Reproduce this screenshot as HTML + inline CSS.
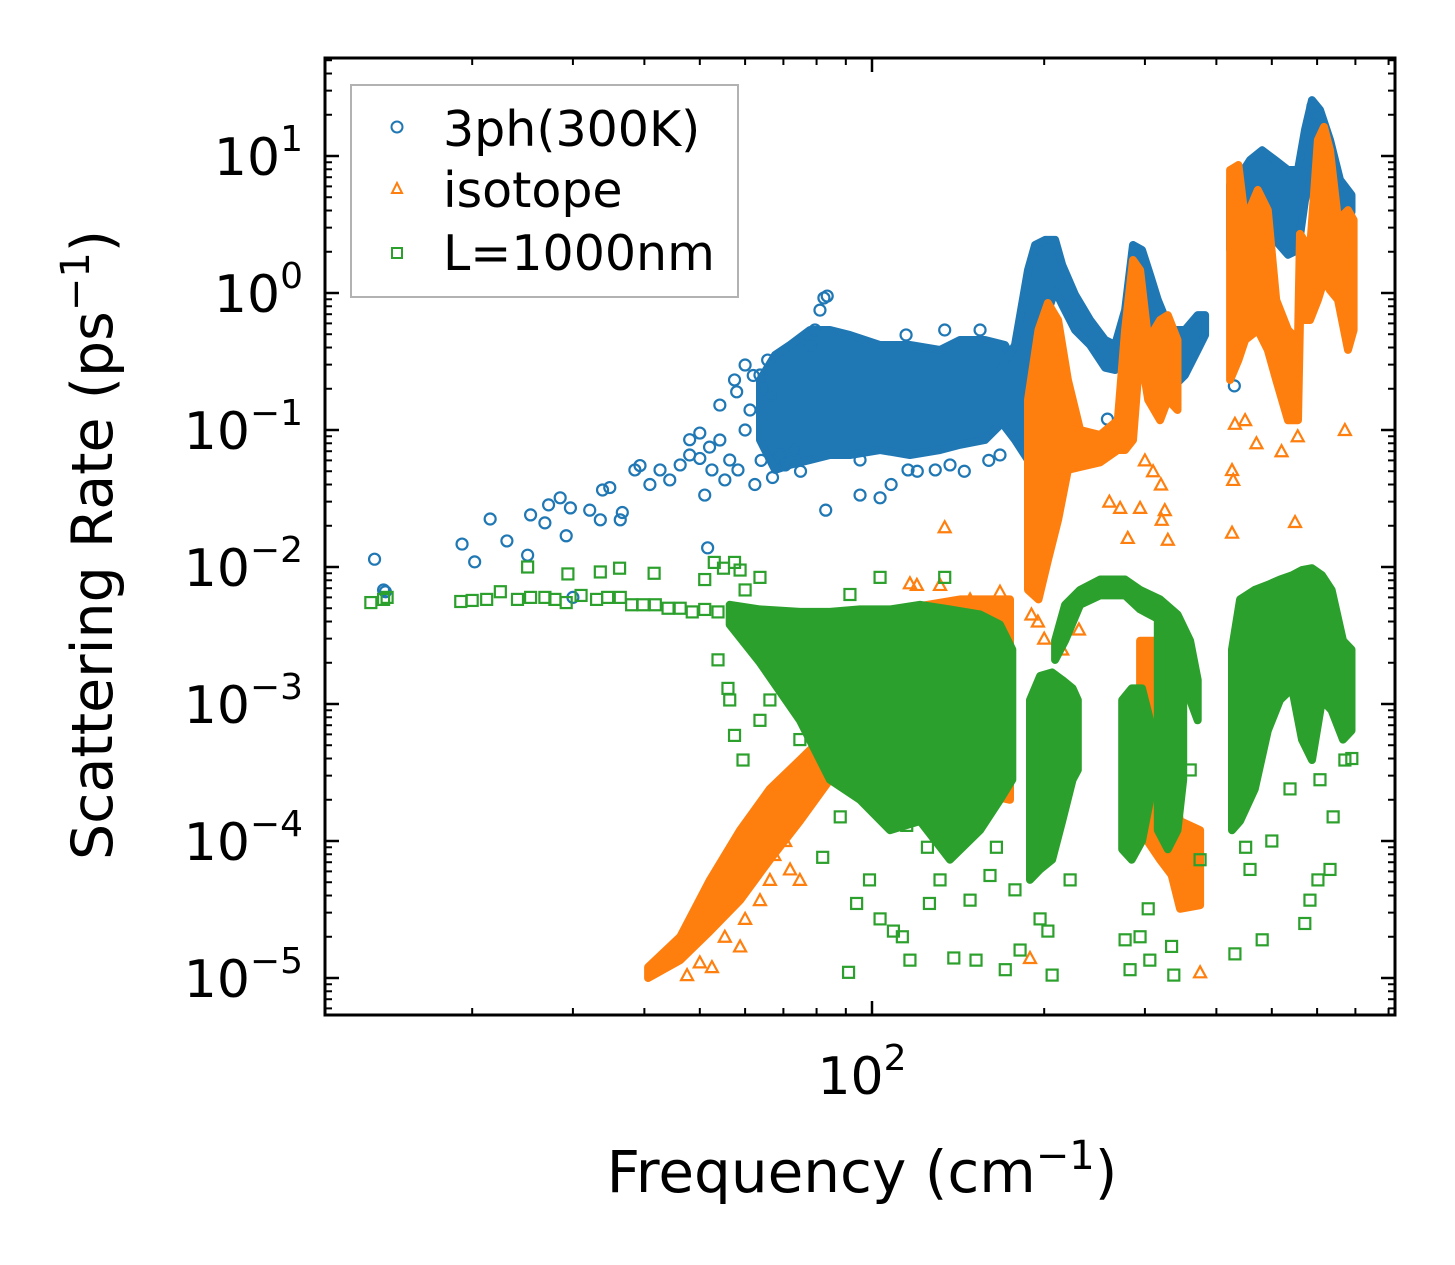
<!DOCTYPE html>
<html><head><meta charset="utf-8"><style>
html,body{margin:0;padding:0;background:#fff;}
svg{display:block;font-family:"DejaVu Sans","Liberation Sans",sans-serif;}
</style></head><body>
<svg id="chart" width="1455" height="1265" viewBox="0 0 1455 1265" xmlns="http://www.w3.org/2000/svg">
<rect x="0" y="0" width="1455" height="1265" fill="#fff"/>
<g id="plot"></g>
<g id="axes"></g>
<text x="862" y="1192" font-size="58" text-anchor="middle">Frequency (cm<tspan dy="-23" font-size="40">−1</tspan><tspan dy="23">)</tspan></text>
<text transform="translate(112,545) rotate(-90)" font-size="57" text-anchor="middle">Scattering Rate (ps<tspan dy="-23" font-size="40">−1</tspan><tspan dy="23">)</tspan></text>
<g id="legend">
<rect x="351" y="85" width="387" height="212" fill="#fff" stroke="#aaa" stroke-width="2" opacity="0.9"/>
<g>
<circle cx="397" cy="127" r="5.5" fill="none" stroke="#1f77b4" stroke-width="2"/>
<text x="443" y="146" font-size="49">3ph(300K)</text></g>
<g>
<polygon points="397,183 402,193 392,193" fill="none" stroke="#ff7f0e" stroke-width="2"/>
<text x="443" y="207" font-size="49">isotope</text></g>
<g>
<rect x="392" y="248" width="10" height="10" fill="none" stroke="#2ca02c" stroke-width="2"/>
<text x="443" y="270" font-size="49">L=1000nm</text></g>
</g>
</svg>
<script>
// ---- data ----
const yTickExps = [1, 0, -1, -2, -3, -4, -5];
const xMajorTicks = [100];
const xMinorTicks = [20,30,40,50,60,70,80,90,200,300,400,500,600,700,800];

// scatter points [freq, rate]
const bluePoints = [[13.5,0.0114],[14.0,0.0068],[14.1,0.0066],[19.2,0.0147],[20.2,0.0109],[21.5,0.0224],[23.0,0.0155],[25.0,0.0122],[25.3,0.024],[26.8,0.021],[27.2,0.0284],[28.5,0.032],[29.2,0.0169],[29.7,0.027],[32.1,0.026],[33.5,0.0221],[33.8,0.0365],[34.8,0.038],[36.3,0.0221],[36.6,0.025],[38.5,0.0511],[39.3,0.055],[40.9,0.040],[42.6,0.0511],[44.3,0.0432],[46.2,0.0556],[48.0,0.0657],[50.0,0.062],[51,0.0335],[52.5,0.0511],[54.2,0.0845],[55.3,0.0432],[56.4,0.0604],[58.3,0.0511],[60,0.1],[61.2,0.14],[62.4,0.040],[63.7,0.252],[65.7,0.324],[66.3,0.18],[69.1,0.0657],[73.3,0.0714],[77.9,0.417],[79.5,0.537],[81.1,0.75],[82.4,0.92],[83.5,0.95],[83,0.026],[95.3,0.0335],[103.3,0.032],[115.6,0.0511],[129,0.0511],[114.7,0.494],[134,0.537],[154.5,0.537],[51.6,0.0138],[30,0.006],[54.2,0.152],[57.5,0.232],[60,0.298],[70.5,0.0556],[95.3,0.0604],[136.9,0.0556],[167.4,0.0657],[48,0.085],[50,0.095],[52,0.075],[64,0.06],[67,0.045],[75,0.05],[58,0.19],[62,0.25],[65,0.2],[108,0.04],[120,0.05],[145,0.05],[160,0.06],[258,0.12],[262,0.1],[430,0.21],[600,20],[590,23]];
const orangePoints = [[52.5,1.2e-5],[55.3,2.0e-5],[60,2.7e-5],[63.7,3.7e-5],[66.3,5.2e-5],[71.9,6.2e-5],[74.8,5.2e-5],[67.5,7.9e-5],[70.5,1.0e-4],[58.8,1.7e-5],[47.5,1.05e-5],[50,1.3e-5],[134,0.0195],[116.5,0.0076],[119.8,0.0074],[131.5,0.0074],[148.4,0.0058],[167.4,0.0066],[145.5,0.0041],[188.9,1.4e-5],[280,0.0163],[321,0.0221],[329,0.0158],[325,0.026],[271.5,0.027],[294.2,0.027],[426,0.0178],[549,0.0213],[671,0.1],[428,0.0432],[431,0.111],[449,0.118],[374.6,1.1e-5],[426,0.051],[470,0.08],[520,0.07],[555,0.09],[300,0.06],[310,0.05],[320,0.04],[260,0.03],[195,0.004],[200,0.003],[215,0.0025],[190,0.0045],[230,0.0035]];
const greenPoints = [[13.3,0.0055],[14.0,0.0058],[14.2,0.006],[19.1,0.0056],[20.0,0.0057],[21.2,0.0058],[22.4,0.0066],[24,0.0058],[25.3,0.006],[26.8,0.006],[27.9,0.0058],[29.2,0.0055],[31,0.0062],[33,0.0058],[34.5,0.006],[36.3,0.006],[38,0.0053],[39.8,0.0053],[41.8,0.0053],[44,0.005],[46.2,0.005],[48.5,0.0047],[51,0.0049],[53.8,0.0047],[25,0.01],[29.4,0.0089],[33.5,0.0092],[36.2,0.0098],[41.6,0.009],[57.5,0.0108],[58.8,0.0095],[51,0.0081],[60,0.0068],[63.7,0.0084],[91.5,0.0063],[103.3,0.0084],[134,0.0084],[53,0.0108],[55,0.0098],[53.8,0.0021],[56.4,0.00107],[57.5,5.9e-4],[59.5,3.9e-4],[63.7,7.6e-4],[74.8,5.5e-4],[66.3,0.00107],[56,0.0013],[82,7.6e-5],[94,3.5e-5],[103.3,2.7e-5],[109,2.2e-5],[113,2.0e-5],[116.5,1.35e-5],[91,1.1e-5],[131.5,5.2e-5],[148.4,3.7e-5],[152,1.35e-5],[171,1.15e-5],[139,1.4e-5],[181.5,1.6e-5],[99,5.2e-5],[160.8,5.6e-5],[126,3.5e-5],[177.8,4.4e-5],[203,2.2e-5],[206.5,1.05e-5],[196.7,2.7e-5],[222,5.2e-5],[282.6,1.15e-5],[277,1.9e-5],[294.2,2.0e-5],[304,3.2e-5],[337,1.05e-5],[334,1.7e-5],[306,1.35e-5],[431,1.5e-5],[458,6.2e-5],[481,1.9e-5],[583,3.7e-5],[571,2.5e-5],[602,5.2e-5],[632,6.2e-5],[671,3.9e-4],[607,2.8e-4],[374.6,7.3e-5],[360,3.3e-4],[538,2.4e-4],[115,1.3e-4],[125,9e-5],[145,1.1e-4],[165,9e-5],[105,1.8e-4],[88,1.5e-4],[690,4e-4],[640,1.5e-4],[500,1.0e-4],[450,9e-5]];

// dense bands [freq, highRate, lowRate]
const blueBands = [
 [[63.7,0.232,0.0845],[67.7,0.353,0.0511],[71.9,0.417,0.0556],[77.9,0.537,0.0604],[84.4,0.537,0.0657],[91.5,0.494,0.0657],[103.3,0.417,0.0714],[116.5,0.417,0.0657],[131.5,0.384,0.0714],[142.5,0.454,0.078],[157.6,0.454,0.0845],[170.8,0.417,0.118],[177.8,0.298,0.166]],
 [[167.4,0.274,0.118],[177.8,0.417,0.0845],[187.4,1.47,0.0604],[192.8,2.24,0.232],[200.7,2.44,0.635],[209,2.44,1.05],[215,1.6,0.82],[226.5,0.97,0.537],[240.6,0.635,0.417],[255.6,0.454,0.285],[266.1,0.417,0.274],[277,0.75,0.324],[286,2.24,0.89],[296.5,2.06,1.05],[306.3,1.35,0.537],[316,0.89,0.166],[332,0.537,0.196],[352.6,0.537,0.252],[371,0.69,0.384],[382.2,0.69,0.494]],
 [[422.7,6.15,2.06],[440,7.2,2.06],[458.1,9.35,2.44],[481,11,2.88],[506.5,9.35,2.44],[533.6,7.9,1.9],[555.6,7.9,2.06],[571.4,15.5,4.77],[587.8,25.6,7.3],[607,21.7,5.66],[631.9,13.1,4.77],[657.9,6.7,4.03],[689,5.2,3.9]]
];
const orangeBands = [
 [[40.6,1.2e-5,1.0e-5],[46.2,2.0e-5,1.35e-5],[52.1,5.2e-5,2.2e-5],[58.8,1.2e-4,3.7e-5],[66.3,2.4e-4,7.3e-5],[74.8,3.9e-4,1.4e-4],[84.4,6.4e-4,2.8e-4],[95.3,1.07e-3,3.9e-4]],
 [[111.9,0.0049,3.9e-4],[142.5,0.0058,2.4e-4],[174.3,0.0058,2.0e-4]],
 [[187.4,0.166,0.0068],[195.5,0.537,0.0058],[203,0.845,0.0112],[211.5,0.635,0.0221],[220,0.232,0.0511],[231.1,0.1,0.0537],[250.5,0.092,0.058],[269,0.118,0.0714],[277,0.537,0.0714],[286,1.74,0.0845],[294.2,1.47,0.384],[304,0.454,0.166],[318.9,0.635,0.118],[329,0.69,0.166],[342,0.454,0.14]],
 [[422.7,7.9,0.232],[437,8.6,0.324],[449,3.41,0.454],[472.5,5.66,0.537],[492,4.03,0.384],[509,0.89,0.232],[533.6,0.537,0.118],[555.6,0.454,0.118],[560.1,2.7,0.635],[583.1,2.06,0.635],[602,13.1,0.89],[617,16.3,1.24],[631.9,11,1.05],[652.7,3.41,0.89],[679.5,4.03,0.384],[695,3.41,0.537]],
 [[329,3.9e-4,7.3e-5],[345.6,1.4e-4,3.2e-5],[374.6,1.2e-4,3.4e-5]],
 [[294.2,0.0029,1.2e-4],[318.9,0.0029,7.3e-5],[339,0.0015,5.2e-5]]
];
const greenBands = [
 [[56.4,0.0053,0.0038],[63.7,0.0049,0.0020],[74.8,0.0047,7.6e-4],[84.4,0.0047,2.8e-4],[95.3,0.0049,2.0e-4],[107.5,0.0049,1.2e-4],[121.3,0.0053,1.4e-4],[136.9,0.0049,7.3e-5],[154.5,0.0045,1.2e-4],[167.4,0.0038,2.0e-4],[175.9,0.0025,2.8e-4]],
 [[188.9,1.07e-3,5.2e-5],[196.7,0.0016,6.2e-5],[206.5,0.0017,7.3e-5],[215,0.0015,1.4e-4],[224.2,0.0013,2.8e-4],[229,1.07e-3,3.3e-4]],
 [[209,0.0029,0.0021],[217.6,0.0053,0.0029],[231.1,0.0068,0.0053],[250.5,0.0081,0.0062],[277,0.0081,0.0062],[294.2,0.0068,0.0049],[318.9,0.0058,0.0041],[342,0.0045,0.0025],[359.8,0.0029,0.00107],[371,0.0015,7.6e-4]],
 [[273.8,1.07e-3,8.7e-5],[284.5,0.0013,7.3e-5],[296.5,0.0013,1.0e-4],[306.3,7.6e-4,2.0e-4]],
 [[316,0.0041,1.2e-4],[329,0.0045,8.7e-5],[342,0.0035,1.2e-4],[350,0.0025,2.8e-4]],
 [[426,0.0025,1.2e-4],[440,0.0058,1.4e-4],[467,0.0068,2.4e-4],[492,0.0074,6.4e-4],[516.8,0.0081,0.00107],[542.5,0.0087,0.0013],[564.5,0.0095,5.5e-4],[587.8,0.0098,3.9e-4],[612,0.0087,0.00107],[636,0.0068,9e-4],[666,0.0029,5.5e-4],[689,0.0025,6.4e-4]]
];

// ---- axes ----
const L=325, R=1395, T=58, B=1015;
function xS(f){ return 872 + 572*Math.log10(f/100); }
function yS(r){ return 293 - 137*Math.log10(r); }
const NS='http://www.w3.org/2000/svg';
const plot=document.getElementById('plot');
const axes=document.getElementById('axes');
function mk(tag, attrs, parent){ const e=document.createElementNS(NS,tag); for(const k in attrs) e.setAttribute(k,attrs[k]); parent.appendChild(e); return e; }

const colors={blue:'#1f77b4',orange:'#ff7f0e',green:'#2ca02c'};
function drawBands(bands,color,name){
  bands.forEach(function(b){
    let top=b.map(p=>xS(p[0]).toFixed(1)+','+yS(p[1]).toFixed(1));
    let bot=b.slice().reverse().map(p=>xS(p[0]).toFixed(1)+','+yS(p[2]).toFixed(1));
    const pg=mk('polygon',{points:top.concat(bot).join(' '),fill:color,stroke:color,'stroke-width':8,'stroke-linejoin':'round'},plot);
    
    
  });
}
function marker(kind,x,y,color){
  let e;
  if(kind==='circle') e=mk('circle',{cx:x,cy:y,r:5.5,fill:'none',stroke:color,'stroke-width':2.2},plot);
  else if(kind==='tri') e=mk('polygon',{points:x+','+(y-6)+' '+(x+6)+','+(y+5)+' '+(x-6)+','+(y+5),fill:'none',stroke:color,'stroke-width':2.2},plot);
  else e=mk('rect',{x:x-5.5,y:y-5.5,width:11,height:11,fill:'none',stroke:color,'stroke-width':2.2},plot);
  return e;
}
function drawPoints(pts,kind,color,name){
  pts.forEach(function(p){
    const e=marker(kind,xS(p[0]),yS(p[1]),color);
    
    
  });
}
drawBands(blueBands,colors.blue,'3ph');
drawPoints(bluePoints,'circle',colors.blue,'3ph');
drawBands(orangeBands,colors.orange,'isotope');
drawPoints(orangePoints,'tri',colors.orange,'isotope');
drawBands(greenBands,colors.green,'l1000nm');
drawPoints(greenPoints,'square',colors.green,'l1000nm');

// frame
const fr=mk('rect',{x:L,y:T,width:R-L,height:B-T,fill:'none',stroke:'#000','stroke-width':3},axes);


// y ticks
yTickExps.forEach(function(e){
  const y=yS(Math.pow(10,e));
  mk('line',{x1:L,x2:L+14,y1:y,y2:y,stroke:'#000','stroke-width':2.5},axes);
  mk('line',{x1:R,x2:R-14,y1:y,y2:y,stroke:'#000','stroke-width':2.5},axes);
  const t=mk('text',{x:303,y:y+19,'font-size':52,'text-anchor':'end'},axes);
  
  
  t.innerHTML='10<tspan dy="-24" font-size="36">'+(e<0?'−'+(-e):e)+'</tspan>';
});
for(let e=-6;e<=1;e++){
  for(let m=2;m<=9;m++){
    const y=yS(m*Math.pow(10,e));
    if(y<T||y>B) continue;
    mk('line',{x1:L,x2:L+7,y1:y,y2:y,stroke:'#000','stroke-width':2},axes);
    mk('line',{x1:R,x2:R-7,y1:y,y2:y,stroke:'#000','stroke-width':2},axes);
  }
}
// x ticks
xMajorTicks.forEach(function(f){
  const x=xS(f);
  mk('line',{x1:x,x2:x,y1:B,y2:B-14,stroke:'#000','stroke-width':2.5},axes);
  mk('line',{x1:x,x2:x,y1:T,y2:T+14,stroke:'#000','stroke-width':2.5},axes);
  const t=mk('text',{x:x-10,y:1094,'font-size':52,'text-anchor':'middle'},axes);
  
  
  t.innerHTML='10<tspan dy="-24" font-size="36">2</tspan>';
});
xMinorTicks.forEach(function(f){
  const x=xS(f);
  mk('line',{x1:x,x2:x,y1:B,y2:B-7,stroke:'#000','stroke-width':2},axes);
  mk('line',{x1:x,x2:x,y1:T,y2:T+7,stroke:'#000','stroke-width':2},axes);
});
</script>
</body></html>
